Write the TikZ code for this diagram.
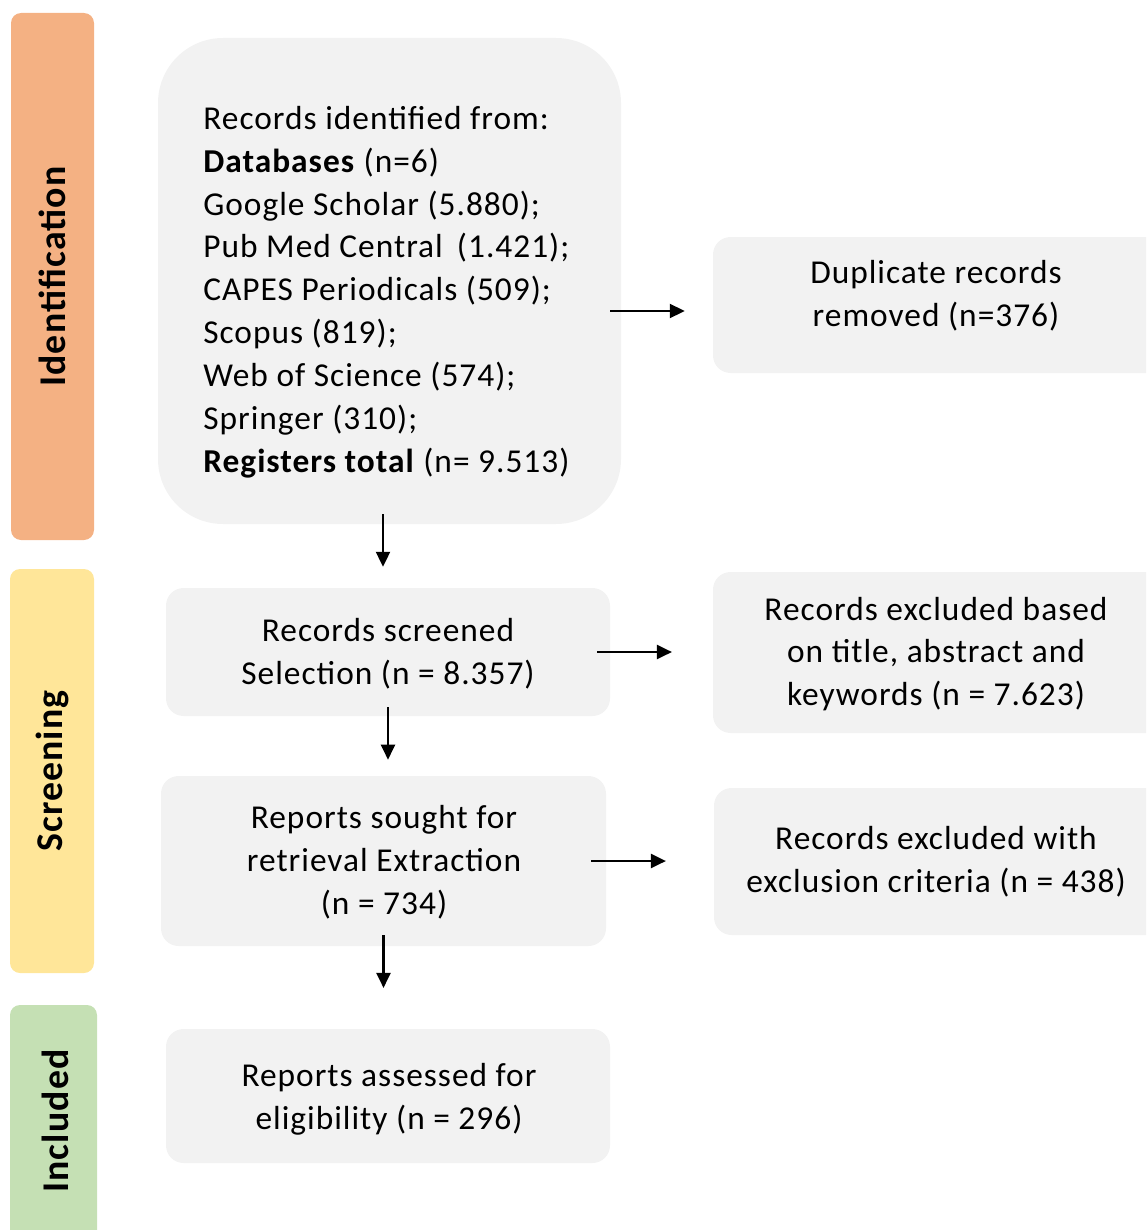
\documentclass[tikz,border=0pt]{standalone}
\usepackage{fontspec}
\setmainfont{Carlito}[LetterSpace=3]
\usetikzlibrary{arrows.meta,fit}
\definecolor{boxgray}{HTML}{F2F2F2}
\definecolor{idcol}{HTML}{F4B183}
\definecolor{scrcol}{HTML}{FFE699}
\definecolor{inccol}{HTML}{C5E0B4}
\begin{document}
\begin{tikzpicture}[x=0.02cm,y=-0.02cm,
  bar/.style={rounded corners=5.7pt, inner sep=0pt, draw=none},
  gbox/.style={fill=boxgray, rounded corners=10pt, inner sep=0pt, draw=none},
  lab/.style={rotate=90, font=\fontsize{21.5}{24}\selectfont\bfseries, inner sep=0pt},
  txt/.style={align=center, inner sep=0pt, font=\fontsize{19}{24.4}\selectfont},
  arr/.style={line width=1.15pt, -{Triangle[length=8.5pt,width=8pt]}}]
\useasboundingbox (0,0) rectangle (1146,1230);
\clip (0,0) rectangle (1146,1230);
% phase bars
\node[bar, fill=idcol, fit={(11,13) (94,540)}] (barid) {};
\node[lab] (labid) at (barid.center) {Identification};
\node[bar, fill=scrcol, fit={(10,569) (94,973)}] (barscr) {};
\node[lab] (labscr) at (barscr.center) {Screening};
\node[bar, fill=inccol, fit={(10,1005) (97,1250)}] (barinc) {};
\node[lab] (labinc) at (55,1121) {Included};
% boxes
\node[gbox, rounded corners=37pt, fit={(158,38) (621,524)}] (big) {};
\node[txt, align=left, anchor=west] (bigtxt) at (203,292) {Records identified from:\\
\textbf{Databases} (n=6)\\
Google Scholar (5.880);\\
Pub Med Central\, (1.421);\\
CAPES Periodicals (509);\\
Scopus (819);\\
Web of Science (574);\\
Springer (310);\\
\textbf{Registers total} (n= 9.513)};
\node[gbox, fit={(713,237) (1165,373)}] (dup) {};
\node[txt] (duptxt) at (936,296) {Duplicate records\\removed (n=376)};
\node[gbox, fit={(166,588) (610,716)}] (scr) {};
\node[txt] (scrtxt) at (388,654) {Records screened\\Selection (n = 8.357)};
\node[gbox, fit={(713,572) (1165,733)}] (exc1) {};
\node[txt] (exc1txt) at (936,654) {Records excluded based\\on title, abstract and\\keywords (n = 7.623)};
\node[gbox, fit={(161,776) (606,946)}] (sought) {};
\node[txt] (soughttxt) at (384,862) {Reports sought for\\retrieval Extraction\\(n = 734)};
\node[gbox, fit={(714,788) (1165,935)}] (exc2) {};
\node[txt] (exc2txt) at (936,862) {Records excluded with\\exclusion criteria (n = 438)};
\node[gbox, fit={(166,1029) (610,1163)}] (ass) {};
\node[txt] (asstxt) at (389,1099) {Reports assessed for\\eligibility (n = 296)};
% arrows
\draw[arr, shorten <=-6.2pt, shorten >=15.9pt] (big.east |- dup.center) ++(0,6) coordinate (a1s) -- (dup.west |- a1s);
\draw[arr, shorten <=-5.7pt, shorten >=11.9pt] (big.south -| scr.north) ++(-5,0) coordinate (a2s) -- (scr.north -| a2s);
\draw[arr, shorten <=-7.4pt, shorten >=23.2pt] (scr.east) -- (exc1.west |- scr.east);
\draw[arr, shorten <=-5.1pt, shorten >=9.1pt] (scr.south) -- (sought.north -| scr.south);
\draw[arr, shorten <=-8.5pt, shorten >=27.2pt] (sought.east) -- (exc2.west |- sought.east);
\draw[arr, shorten <=-6.2pt, shorten >=23.2pt] (sought.south) -- (ass.north -| sought.south);
\end{tikzpicture}
\end{document}
